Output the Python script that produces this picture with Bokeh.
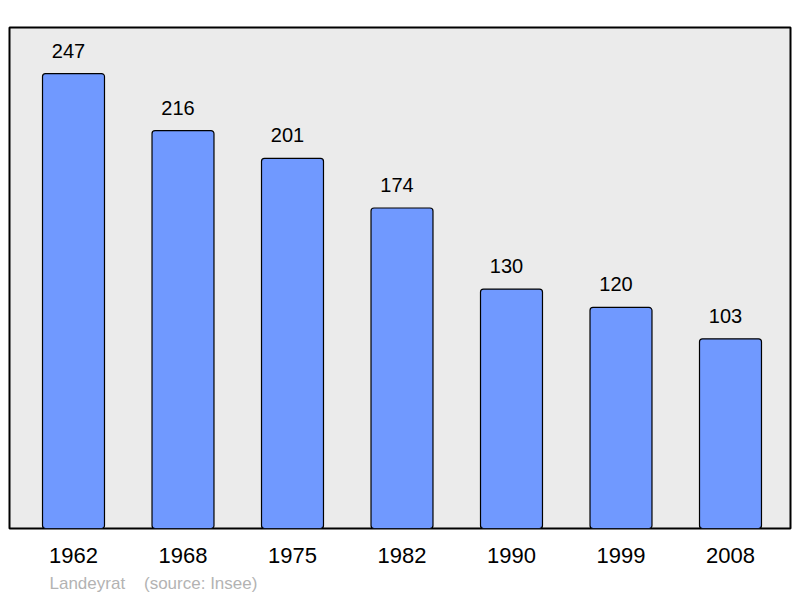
from bokeh.plotting import figure
from bokeh.models import Range1d, FixedTicker, Title, ColumnDataSource
from bokeh.embed import file_html
from bokeh.resources import INLINE
from bokeh.core.properties import value

years = ["1962", "1968", "1975", "1982", "1990", "1999", "2008"]
population = [247, 216, 201, 174, 130, 120, 103]
commune = "Landeyrat"
source_note = "(source: Insee)"

idx = list(range(len(years)))
src = ColumnDataSource(dict(x=idx, top=population, lbl=[str(v) for v in population]))

FONT = "Liberation Sans"

p = figure(width=800, height=598, output_backend="svg", toolbar_location=None,
           x_range=Range1d(-0.5845, 6.548), y_range=Range1d(0, 272),
           min_border_left=9, min_border_right=10, min_border_top=27, min_border_bottom=70)
p.background_fill_color = "#ebebeb"
p.border_fill_color = "white"
p.outline_line_color = "black"
p.outline_line_width = 2
p.grid.visible = False
p.yaxis.visible = False

p.vbar(x="x", top="top", bottom=0, width=0.566, source=src,
       fill_color="#7099ff", line_color="black", line_width=1.2, border_radius=3)
p.text(x="x", y="top", text="lbl", source=src, x_offset=-5, y_offset=-23,
       text_align="center", text_baseline="alphabetic",
       text_font=value(FONT), text_font_size="20px", text_color="black")

ax = p.xaxis[0]
ax.ticker = FixedTicker(ticks=idx)
ax.major_label_overrides = {i: y for i, y in enumerate(years)}
ax.major_tick_in = 0
ax.major_tick_out = 0
ax.minor_tick_in = 0
ax.minor_tick_out = 0
ax.axis_line_color = None
ax.major_label_standoff = 19
ax.major_label_text_font = FONT
ax.major_label_text_font_size = "22px"
ax.major_label_text_color = "black"

note = Title(text=commune + "\u00a0\u00a0\u00a0\u00a0" + source_note, align="left", offset=40,
             standoff=12, vertical_align="bottom", text_font=FONT, text_font_size="17px",
             text_font_style="normal", text_color="#b3b3b3")
p.add_layout(note, "below")

open("out.html", "w").write(file_html(p, INLINE))
